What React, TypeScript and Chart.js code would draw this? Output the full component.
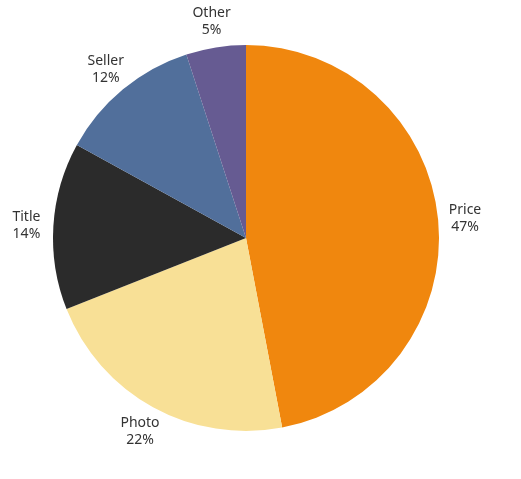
import React, { useEffect, useRef } from "react";
import { Chart, registerables } from "chart.js";

Chart.register(...registerables);

const categories = ["Price", "Photo", "Title", "Seller", "Other"];
const values = [47, 22, 14, 12, 5];
const colors = ["#F0870E", "#F8E096", "#2B2B2B", "#516F9B", "#665B92"];

const outsideLabels = {
  id: "outsideLabels",
  afterDatasetsDraw(chart: any) {
    const ctx = chart.ctx;
    const meta = chart.getDatasetMeta(0);
    ctx.save();
    ctx.font = "14px 'Noto Sans', sans-serif";
    ctx.fillStyle = "#333333";
    ctx.textAlign = "center";
    ctx.textBaseline = "middle";
    meta.data.forEach((arc: any, i: number) => {
      const { x, y, startAngle, endAngle, outerRadius } = arc.getProps(
        ["x", "y", "startAngle", "endAngle", "outerRadius"],
        true
      );
      const mid = (startAngle + endAngle) / 2;
      const r = outerRadius + 27;
      const lx = x + Math.cos(mid) * r;
      const ly = y + Math.sin(mid) * r + 1;
      ctx.fillText(categories[i], lx, ly - 8.5);
      ctx.fillText(values[i] + "%", lx, ly + 8.5);
    });
    ctx.restore();
  },
};

export default function App() {
  const ref = useRef<HTMLCanvasElement>(null);
  useEffect(() => {
    document.body.style.margin = "0";
    const chart = new Chart(ref.current!, {
      type: "pie",
      data: {
        labels: categories,
        datasets: [
          {
            data: values,
            backgroundColor: colors,
            borderWidth: 0,
          },
        ],
      },
      options: {
        animation: false,
        responsive: false,
        layout: { padding: { left: 53, right: 82, top: 45, bottom: 48 } },
        plugins: {
          legend: { display: false },
          tooltip: { enabled: false },
        },
      },
      plugins: [outsideLabels],
    });
    return () => chart.destroy();
  }, []);
  return (
    <div style={{ width: 521, height: 479 }}>
      <canvas ref={ref} width={521} height={479} />
    </div>
  );
}
